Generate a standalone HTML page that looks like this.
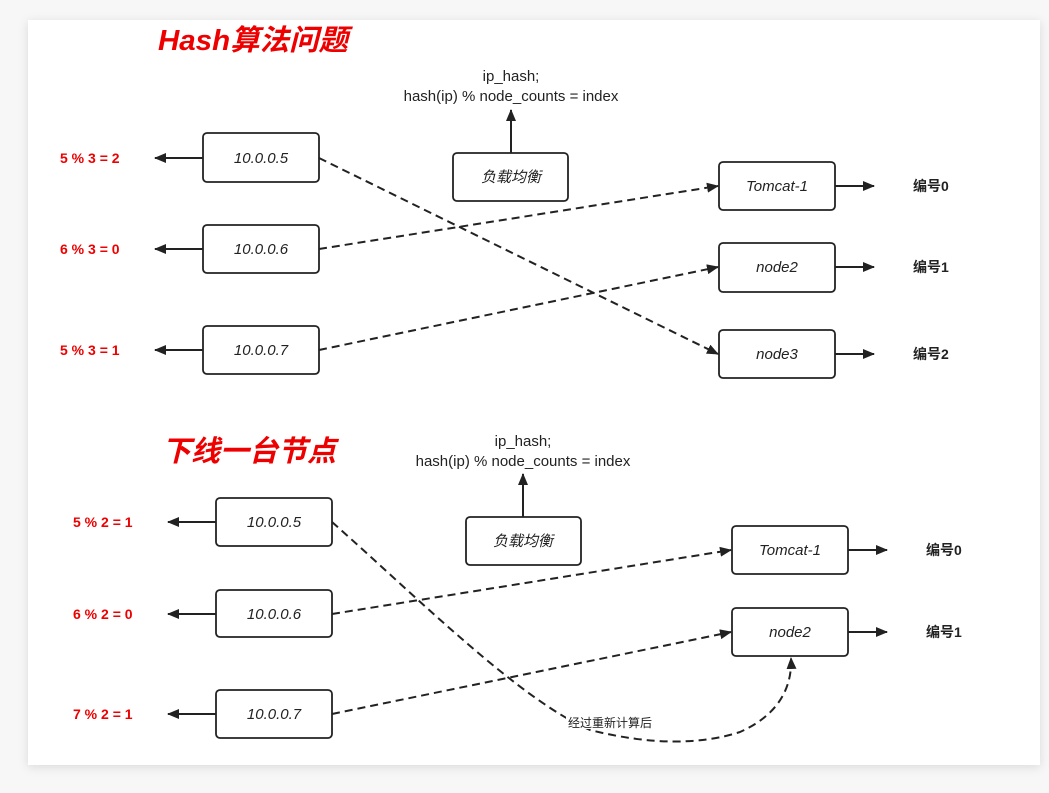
<!DOCTYPE html>
<html><head><meta charset="utf-8"><style>
body{margin:0;background:#f3f3f3;}
svg{display:block}
text{font-family:"Liberation Sans","Noto Sans CJK SC",sans-serif;}
</style></head><body>
<svg width="1049" height="793" viewBox="0 0 1049 793">
<defs>
<filter id="sh" x="-5%" y="-5%" width="110%" height="110%"><feDropShadow dx="0" dy="2" stdDeviation="5" flood-color="#000" flood-opacity="0.12"/></filter>
<marker id="a" markerWidth="12" markerHeight="10" refX="11" refY="5" orient="auto" markerUnits="userSpaceOnUse"><path d="M0,0 L12,5 L0,10 z" fill="#222"/></marker>
</defs>
<rect x="0" y="0" width="1049" height="793" fill="#f7f7f7"/>
<rect x="28" y="20" width="1012" height="745" fill="#fff" filter="url(#sh)"/>
<g fill="#e00" font-weight="bold" font-style="italic" font-size="29">
<text x="158" y="50" textLength="190" lengthAdjust="spacingAndGlyphs">Hash算法问题</text>
<text x="162" y="461" textLength="174" lengthAdjust="spacingAndGlyphs">下线一台节点</text>
</g>
<g stroke="#222" stroke-width="1.8" fill="#fff">
<rect x="203" y="133" width="116" height="49" rx="4"/>
<rect x="203" y="225" width="116" height="48" rx="4"/>
<rect x="203" y="326" width="116" height="48" rx="4"/>
<rect x="453" y="153" width="115" height="48" rx="4"/>
<rect x="719" y="162" width="116" height="48" rx="4"/>
<rect x="719" y="243" width="116" height="49" rx="4"/>
<rect x="719" y="330" width="116" height="48" rx="4"/>
<rect x="216" y="498" width="116" height="48" rx="4"/>
<rect x="216" y="590" width="116" height="47" rx="4"/>
<rect x="216" y="690" width="116" height="48" rx="4"/>
<rect x="466" y="517" width="115" height="48" rx="4"/>
<rect x="732" y="526" width="116" height="48" rx="4"/>
<rect x="732" y="608" width="116" height="48" rx="4"/>
</g>
<g stroke="#222" stroke-width="2" fill="none" marker-end="url(#a)">
<line x1="203" y1="158" x2="155" y2="158"/>
<line x1="203" y1="249" x2="155" y2="249"/>
<line x1="203" y1="350" x2="155" y2="350"/>
<line x1="511" y1="153" x2="511" y2="110"/>
<line x1="835" y1="186" x2="874" y2="186"/>
<line x1="835" y1="267" x2="874" y2="267"/>
<line x1="835" y1="354" x2="874" y2="354"/>
<line x1="216" y1="522" x2="168" y2="522"/>
<line x1="216" y1="614" x2="168" y2="614"/>
<line x1="216" y1="714" x2="168" y2="714"/>
<line x1="523" y1="517" x2="523" y2="474"/>
<line x1="848" y1="550" x2="887" y2="550"/>
<line x1="848" y1="632" x2="887" y2="632"/>
</g>
<g stroke="#222" stroke-width="2" fill="none" stroke-dasharray="8,5" marker-end="url(#a)">
<line x1="319" y1="158" x2="718" y2="354"/>
<line x1="319" y1="249" x2="718" y2="186"/>
<line x1="319" y1="350" x2="718" y2="267"/>
<line x1="332" y1="614" x2="731" y2="550"/>
<line x1="332" y1="714" x2="731" y2="632"/>
<path d="M332,522 C420,600 520,700 590,730 C650,745 700,745 740,732 C785,712 792,680 791,658"/>
</g>
<g font-style="italic" font-size="15" fill="#222" text-anchor="middle">
<text x="261" y="163">10.0.0.5</text>
<text x="261" y="254">10.0.0.6</text>
<text x="261" y="355">10.0.0.7</text>
<text x="511" y="182">负载均衡</text>
<text x="777" y="191">Tomcat-1</text>
<text x="777" y="272">node2</text>
<text x="777" y="359">node3</text>
<text x="274" y="527">10.0.0.5</text>
<text x="274" y="619">10.0.0.6</text>
<text x="274" y="719">10.0.0.7</text>
<text x="523" y="546">负载均衡</text>
<text x="790" y="555">Tomcat-1</text>
<text x="790" y="637">node2</text>
</g>
<g font-size="15" fill="#222" text-anchor="middle">
<text x="511" y="81">ip_hash;</text>
<text x="511" y="101">hash(ip) % node_counts = index</text>
<text x="523" y="446">ip_hash;</text>
<text x="523" y="466">hash(ip) % node_counts = index</text>
</g>
<g font-size="14" fill="#222" font-weight="bold">
<text x="913" y="191">编号0</text>
<text x="913" y="272">编号1</text>
<text x="913" y="359">编号2</text>
<text x="926" y="555">编号0</text>
<text x="926" y="637">编号1</text>
</g>
<rect x="566" y="713" width="76" height="16" fill="#fff"/>
<text x="568" y="727" font-size="12" fill="#222">经过重新计算后</text>
<g font-size="14" fill="#e00" font-weight="bold">
<text x="60" y="163">5 % 3 = 2</text>
<text x="60" y="254">6 % 3 = 0</text>
<text x="60" y="355">5 % 3 = 1</text>
<text x="73" y="527">5 % 2 = 1</text>
<text x="73" y="619">6 % 2 = 0</text>
<text x="73" y="719">7 % 2 = 1</text>
</g>
</svg>
</body></html>
